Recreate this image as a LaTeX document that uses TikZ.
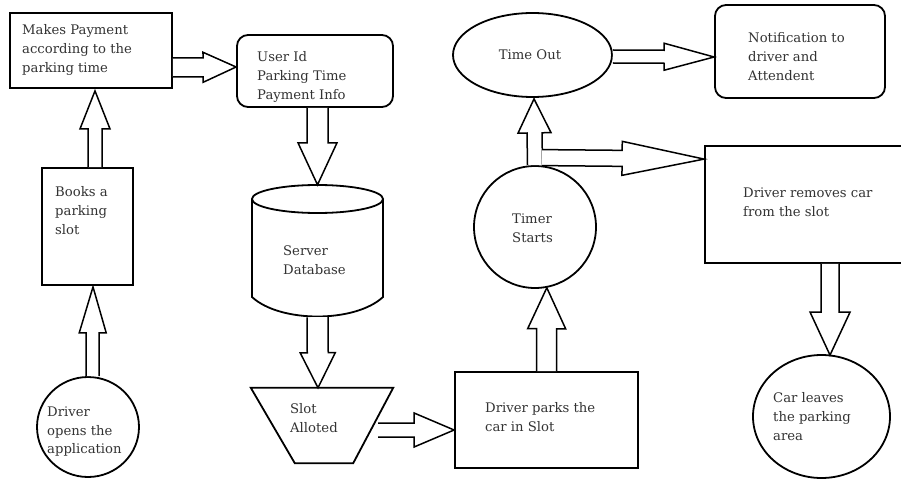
\documentclass[tikz,border=0pt]{standalone}
\usepackage{fontspec}
\setmainfont{DejaVu Serif}
\usetikzlibrary{calc,shapes.geometric}

% Hollow block arrow: #1 start, #2 tip, #3 shaft half-width,
% #4 head half-width, #5 head length
\newcommand{\blockarrow}[5]{%
  \coordinate (bab) at ($(#2)!#5!(#1)$);
  \filldraw[blockarr]
    ($(#1)!#3!90:(#2)$) -- ($(bab)!#3!-90:(#1)$) -- ($(bab)!#4!-90:(#1)$)
    -- (#2) -- ($(bab)!#4!90:(#1)$) -- ($(bab)!#3!90:(#1)$)
    -- ($(#1)!#3!-90:(#2)$);
}

\tikzset{
  shapeline/.style={draw=black, line width=1.8pt, fill=white},
  boxnode/.style={shapeline, rectangle, inner sep=0pt},
  roundnode/.style={shapeline, rectangle, rounded corners=11pt, inner sep=0pt},
  ovalnode/.style={shapeline, ellipse, inner sep=0pt},
  holder/.style={rectangle, inner sep=0pt},
  blockarr/.style={draw=black, line width=1.5pt, fill=white, line join=miter},
  txt/.style={font=\fontsize{13.2}{18.7}\selectfont, text=black!80, align=left,
              inner sep=0pt, anchor=north west},
}

\begin{document}
\begin{tikzpicture}[x=1pt, y=-1pt]
\clip (0,0) rectangle (901,481);
\fill[white] (0,0) rectangle (901,481);

% ---------- shapes ----------
\node[boxnode, minimum width=162pt, minimum height=75pt] (pay) at (91,50.5) {};
\node[boxnode, minimum width=91pt, minimum height=117pt] (book) at (87.5,226.5) {};
\node[ovalnode, minimum width=102pt, minimum height=100pt] (drv) at (88,427) {};
\node[roundnode, minimum width=156pt, minimum height=72pt] (user) at (315,71) {};

% server database (cylinder)
\node[holder, minimum width=131pt, minimum height=132pt] (db) at (317.5,251) {};
\draw[shapeline] (252,199) -- (252,297) .. controls (280,323) and (355,323) .. (383,297)
  -- (383,199);
\draw[shapeline] (317.5,199) ellipse [x radius=65.5, y radius=14];

% slot alloted (inverted trapezium)
\node[holder, minimum width=142pt, minimum height=75pt] (slot) at (322,425.5) {};
\draw[shapeline] (slot.north west) -- (slot.north east)
  -- ($(slot.south east)+(-40,0)$) -- ($(slot.south west)+(44,0)$) -- cycle;

\node[boxnode, minimum width=183pt, minimum height=96pt] (parks) at (546.5,420) {};
\node[ovalnode, minimum width=122pt, minimum height=122pt] (timer) at (535,227) {};
\node[ovalnode, minimum width=159pt, minimum height=84pt] (timeout) at (532.5,55) {};
\node[roundnode, minimum width=170pt, minimum height=93pt] (notif) at (800,51.5) {};
\node[boxnode, minimum width=200pt, minimum height=117pt] (removes) at (805,204.5) {};
\node[ovalnode, minimum width=137pt, minimum height=123pt] (leaves) at (821.5,416.5) {};

% ---------- texts ----------
\node[txt] (pay-t) at (22,24.5) {Makes Payment\\according to the\\parking time};
\node[txt] (book-t) at (55,186.5) {Books a\\parking\\slot};
\node[txt] (drv-t) at (47,406.5) {Driver\\opens the\\application};
\node[txt] (user-t) at (257,51.5) {User Id\\Parking Time\\Payment Info};
\node[txt] (db-t) at (283,245.5) {Server\\Database};
\node[txt] (slot-t) at (290,403.5) {Slot\\Alloted};
\node[txt] (parks-t) at (485,402.5) {Driver parks the\\car in Slot};
\node[txt] (timer-t) at (512,213.5) {Timer\\Starts};
\node[txt, anchor=center] (timeout-t) at (530,55) {Time Out};
\node[txt] (notif-t) at (748,32.5) {Notification to\\driver and\\Attendent};
\node[txt] (removes-t) at (743,187.5) {Driver removes car\\from the slot};
\node[txt] (leaves-t) at (773,392.5) {Car leaves\\the parking\\area};

% ---------- connectors ----------
\coordinate (drv-out) at ($(drv.north)+(4.5,0)$);
\coordinate (book-in) at ($(book.south)+(5.5,1)$);
\blockarrow{drv-out}{book-in}{6.5pt}{13.5pt}{46pt}

\coordinate (book-out) at ($(book.north)+(7.5,0)$);
\coordinate (pay-in) at ($(pay.south)+(4,2)$);
\blockarrow{book-out}{pay-in}{7pt}{15pt}{38pt}

\coordinate (pay-out) at ($(pay.east)+(0,17)$);
\coordinate (user-in) at ($(user.west)+(0,-4)$);
\blockarrow{pay-out}{user-in}{9.5pt}{15pt}{33pt}

\coordinate (user-out) at ($(user.south)+(2.5,0)$);
\blockarrow{user-out}{db.north}{10.5pt}{19.5pt}{42pt}

\coordinate (slot-in) at ($(slot.north)+(-4,0)$);
\blockarrow{db.south}{slot-in}{10.5pt}{17.5pt}{35pt}

\coordinate (slot-out) at ($(slot.east)+(-15,4.5)$);
\coordinate (parks-in) at ($(parks.west)+(0,10)$);
\blockarrow{slot-out}{parks-in}{7pt}{17pt}{40pt}

\blockarrow{parks.north}{timer.-79}{10pt}{19pt}{41pt}

\coordinate (timeout-in) at ($(timeout.south)+(1.5,1)$);
\blockarrow{timer.north}{timeout-in}{7.5pt}{16.5pt}{34pt}

\coordinate (fork) at ($(timer.north)+(7,-7.5)$);
\coordinate (removes-in) at ($(removes.north west)+(0,14)$);
\blockarrow{fork}{removes-in}{8pt}{17pt}{82pt}

\coordinate (timeout-out) at ($(timeout.east)+(0,1.5)$);
\coordinate (notif-in) at ($(notif.west)+(0,5.5)$);
\blockarrow{timeout-out}{notif-in}{6.5pt}{13.5pt}{50pt}

\coordinate (removes-out) at ($(removes.south west)+(126,0)$);
\coordinate (leaves-in) at ($(leaves.north)+(8.5,1)$);
\blockarrow{removes-out}{leaves-in}{9pt}{20pt}{43pt}
\end{tikzpicture}
\end{document}
